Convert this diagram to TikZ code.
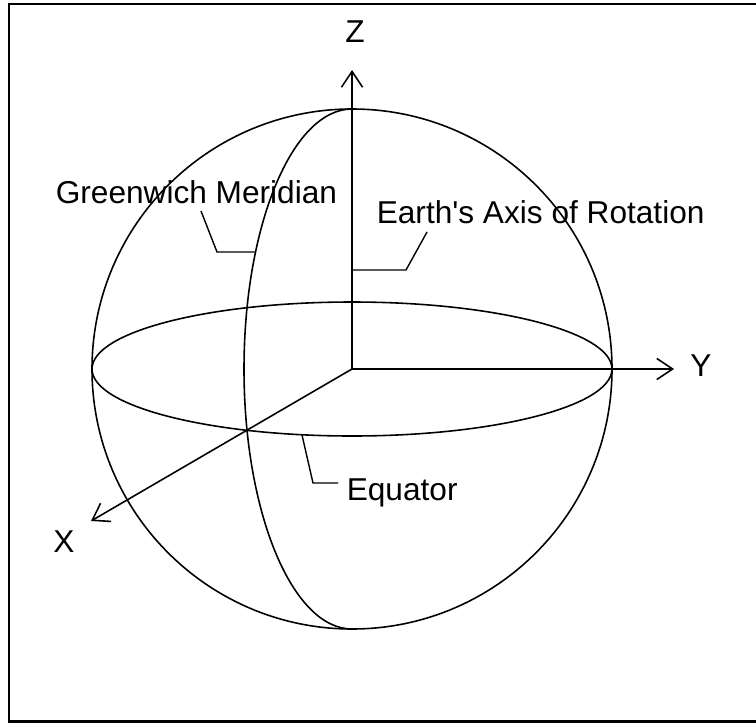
\documentclass[tikz,border=0pt]{standalone}
\usepackage{fontspec}
\newfontfamily\labelfont{Liberation Sans}
\usetikzlibrary{arrows.meta}

\begin{document}
\begin{tikzpicture}[x=0.02cm, y=-0.02cm, line width=0.9pt,
    axis/.style={-{Straight Barb[length=9pt,width=12pt]}},
    leader/.style={line width=0.8pt},
    lbl/.style={inner sep=0pt, font=\labelfont\fontsize{18}{22}\selectfont}]
    % Frame (right edge falls outside the picture)
    \useasboundingbox (0,0) rectangle (756,723);
    \draw[line width=1.5pt] (770,4) -- (9,4) -- (9,721.5) -- (770,721.5);

    % Sphere, equator and Greenwich meridian
    \coordinate (O) at (352,369);
    \draw (O) circle[radius=260];
    \draw (O) ellipse[x radius=260, y radius=67];
    \draw (352,109) arc[start angle=270, end angle=90, x radius=108, y radius=260];

    % Axes
    \coordinate (ztip) at (352,70);
    \coordinate (ytip) at (674,369);
    \coordinate (xtip) at (91,521);
    \draw[axis] (O) -- (ztip);
    \draw[axis] (O) -- (ytip);
    \draw[axis] (O) -- (xtip);
    \node[lbl] (zlab) at (355,32) {Z};
    \node[lbl] (ylab) at (701,366) {Y};
    \node[lbl] (xlab) at (64,542) {X};

    % Labels
    \node[lbl, anchor=base west] (gm) at (55,203) {Greenwich Meridian};
    \node[lbl, anchor=base west] (ea) at (376,223) {Earth's Axis of Rotation};
    \node[lbl, anchor=base west] (eq) at (346,500) {Equator};

    % Leader lines
    \coordinate (gmfoot) at (201,211);
    \coordinate (gmbend) at (217,252);
    \coordinate (gmpt) at (255,252);
    \draw[leader] (gmfoot) -- (gmbend) -- (gmpt);
    \coordinate (eafoot) at (427,232);
    \coordinate (eabend) at (406,270);
    \coordinate (eapt) at (352,270);
    \draw[leader] (eafoot) -- (eabend) -- (eapt);
    \coordinate (eqpt) at (302,435);
    \coordinate (eqbend) at (313,483);
    \coordinate (eqfoot) at (338,483);
    \draw[leader] (eqpt) -- (eqbend) -- (eqfoot);
\end{tikzpicture}
\end{document}
